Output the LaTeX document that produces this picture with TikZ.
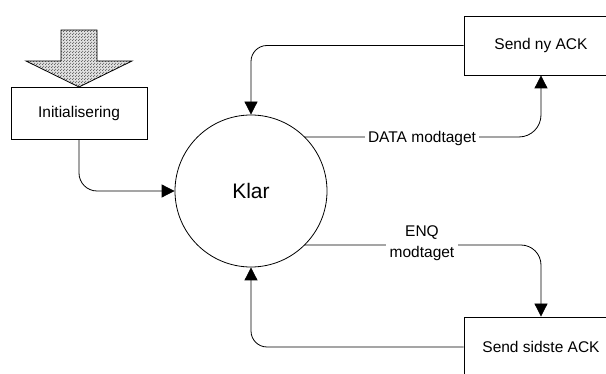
\documentclass[tikz,border=0pt]{standalone}
\usepackage{fontspec}
\setmainfont{Liberation Sans}
\usetikzlibrary{arrows.meta,patterns}
% fine dot stipple for the entry arrow
\pgfdeclarepatternformonly{stipple}{\pgfpointorigin}{\pgfqpoint{3pt}{3pt}}{\pgfqpoint{3pt}{3pt}}{%
  \pgfpathcircle{\pgfqpoint{0.75pt}{0.75pt}}{0.7pt}%
  \pgfpathcircle{\pgfqpoint{2.25pt}{2.25pt}}{0.7pt}%
  \pgfusepath{fill}}
\begin{document}
\begin{tikzpicture}[x=1pt,y=-1pt,
  every node/.style={font=\fontsize{15.5}{21}\selectfont},
  box/.style={draw=black,line width=0.8pt,rectangle,fill=white,inner sep=0pt},
  state/.style={draw=black,line width=0.8pt,circle,fill=white,minimum size=152pt,inner sep=0pt,
                font=\fontsize{21}{25}\selectfont},
  conn/.style={draw=black,line width=0.8pt,-{Triangle[length=13pt,width=13pt]}},
  lbl/.style={fill=white,inner xsep=3.5pt,inner ysep=1pt,align=center}]
  \useasboundingbox (0,0) rectangle (606,374);
  \clip (0,0) rectangle (606,374);

  % entry arrow (stippled block arrow)
  \path[fill=black!12]
    (61,30) -- (97,30) -- (97,61) -- (132,61) -- (79,87) -- (26,61) -- (61,61) -- cycle;
  \path[pattern=stipple,pattern color=black!65]
    (61,30) -- (97,30) -- (97,61) -- (132,61) -- (79,87) -- (26,61) -- (61,61) -- cycle;
  \path[draw=black,line width=0.8pt]
    (61,30) -- (97,30) -- (97,61) -- (132,61) -- (79,87) -- (26,61) -- (61,61) -- cycle;

  % nodes
  \node[box,minimum width=136pt,minimum height=52pt] (init) at (79,113) {Initialisering};
  \node[state] (klar) at (251,191) {Klar};
  \node[box,minimum width=154pt,minimum height=59pt] (sendny) at (541,45.5) {Send ny ACK};
  \node[box,minimum width=154pt,minimum height=60pt] (sendsidste) at (541,347) {Send sidste ACK};

  % connectors
  \draw[conn,rounded corners=18pt] (init.south) |- (klar.west);
  \draw[conn,rounded corners=16pt] (sendny.west) -| (klar.north);
  \draw[conn,rounded corners=22pt] (klar.45) -| (sendny.south);
  \draw[conn,rounded corners=20pt] (klar.-45) -| (sendsidste.north);
  \draw[conn,rounded corners=16pt] (sendsidste.west) -| (klar.south);

  % connector labels
  \node[lbl] (datalbl) at (422,138) {DATA modtaget};
  \node[lbl,inner ysep=0pt] (enqlbl) at (422,243.5) {ENQ\\modtaget};
\end{tikzpicture}
\end{document}
